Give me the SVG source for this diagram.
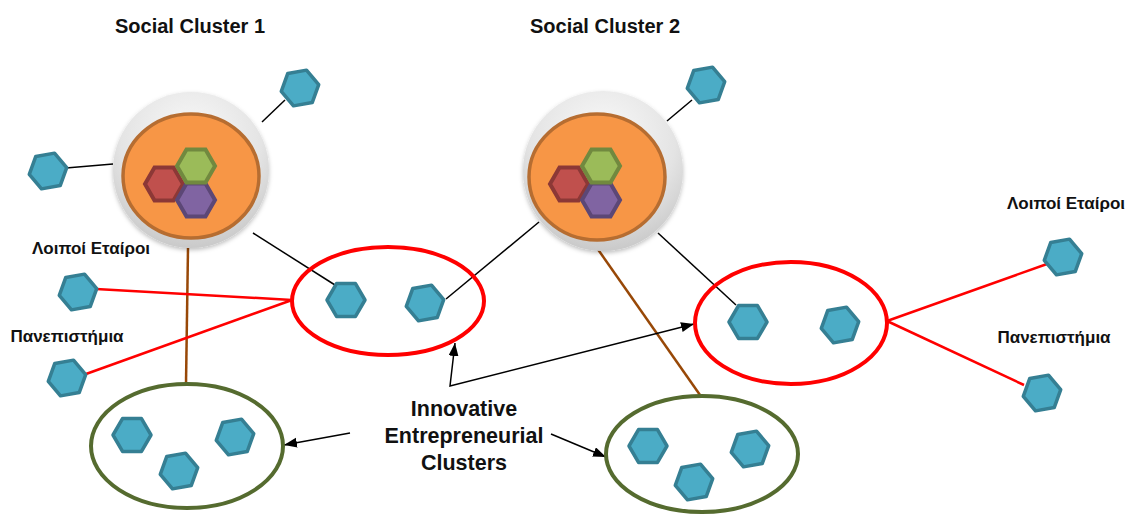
<svg xmlns="http://www.w3.org/2000/svg" xmlns:xlink="http://www.w3.org/1999/xlink" width="1136" height="514" viewBox="0 0 1136 514">
<style>
.t{font-family:"Liberation Sans",Arial,sans-serif;font-weight:bold;fill:#111;}
.bh{fill:#4BACC6;stroke:#357F93;stroke-width:3.5;stroke-linejoin:round;}
.rh{fill:#C0504D;stroke:#8C3836;stroke-width:4;}
.gh{fill:#9BBB59;stroke:#71893F;stroke-width:4;}
.ph{fill:#8064A2;stroke:#5C4776;stroke-width:4;}
.outer{fill:url(#gg);filter:url(#sh);}
.orange{fill:#F79646;stroke:#B66D31;stroke-width:3.5;}
.red{fill:none;stroke:#FF0000;stroke-width:4;}
.grn{fill:none;stroke:#556B2F;stroke-width:4;}
.bl{stroke:#000;stroke-width:1.5;fill:none;}
.br{stroke:#984807;stroke-width:2.5;fill:none;}
.rl{stroke:#FF0000;stroke-width:2.5;fill:none;}
.ar{stroke:#000;stroke-width:1.5;fill:none;marker-end:url(#ah);}
</style>
<defs>
<path id="hx" d="M-19,0 L-9.5,-16.45 L9.5,-16.45 L19,0 L9.5,16.45 L-9.5,16.45Z"/>
<radialGradient id="gg" cx="0.5" cy="0.3" r="0.75">
<stop offset="0" stop-color="#FAFAFA"/>
<stop offset="0.6" stop-color="#E4E4E4"/>
<stop offset="1" stop-color="#C4C4C4"/>
</radialGradient>
<filter id="sh" x="-20%" y="-20%" width="140%" height="140%">
<feDropShadow dx="0" dy="2" stdDeviation="2" flood-color="#000" flood-opacity="0.25"/>
</filter>
<marker id="ah" markerUnits="userSpaceOnUse" markerWidth="14" markerHeight="12" refX="13" refY="5" orient="auto-start-reverse">
<path d="M0,0 L13,5 L0,10Z" fill="#000"/>
</marker>
</defs>

<g id="connectors">
<line class="bl" x1="285" y1="100" x2="262" y2="122"/>
<line class="bl" x1="66" y1="168" x2="113" y2="164"/>
<line class="bl" x1="253" y1="233" x2="335" y2="285"/>
<line class="bl" x1="446" y1="299" x2="539" y2="222"/>
<line class="bl" x1="692" y1="100" x2="667" y2="121"/>
<line class="bl" x1="658" y1="233" x2="736" y2="305"/>
<line class="br" x1="188" y1="248" x2="186" y2="384"/>
<line class="br" x1="597" y1="248" x2="700" y2="395"/>
<line class="rl" x1="96" y1="289" x2="292" y2="300"/>
<line class="rl" x1="86" y1="374" x2="292" y2="300"/>
<line class="rl" x1="887" y1="321" x2="1047" y2="264"/>
<line class="rl" x1="887" y1="321" x2="1024" y2="385"/>
<path class="ar" style="marker-start:url(#ah)" d="M455,343 L450,386 L694,324"/>
<line class="ar" x1="350" y1="433" x2="284" y2="445"/>
<line class="ar" x1="551" y1="434" x2="606" y2="457"/>
</g>

<g id="social-cluster-1">
<circle class="outer" cx="191" cy="170" r="78"/>
<ellipse class="orange" cx="191" cy="176" rx="68" ry="62"/>
<use href="#hx" class="rh" x="164" y="184"/>
<use href="#hx" class="ph" x="196" y="200"/>
<use href="#hx" class="gh" x="196" y="166"/>
</g>
<g id="social-cluster-2">
<circle class="outer" cx="603" cy="171" r="80"/>
<ellipse class="orange" cx="597" cy="177" rx="68" ry="63"/>
<use href="#hx" class="rh" x="569" y="184"/>
<use href="#hx" class="ph" x="601" y="200"/>
<use href="#hx" class="gh" x="601" y="166"/>
</g>

<g id="innovative-cluster-red-1"><ellipse class="red" cx="388" cy="301" rx="96" ry="54"/>
<use href="#hx" class="bh" transform="translate(346,300)"/>
<use href="#hx" class="bh" transform="translate(425,303) rotate(-10)"/>
</g>
<g id="innovative-cluster-red-2"><ellipse class="red" cx="791" cy="323" rx="96" ry="61"/>
<use href="#hx" class="bh" transform="translate(748,322)"/>
<use href="#hx" class="bh" transform="translate(840,325) rotate(-10)"/>
</g>
<g id="innovative-cluster-green-1"><ellipse class="grn" cx="187" cy="446" rx="96" ry="62"/>
<use href="#hx" class="bh" transform="translate(132,435)"/>
<use href="#hx" class="bh" transform="translate(235,437) rotate(-10)"/>
<use href="#hx" class="bh" transform="translate(179,471) rotate(-10)"/>
</g>
<g id="innovative-cluster-green-2"><ellipse class="grn" cx="702" cy="454" rx="96" ry="58"/>
<use href="#hx" class="bh" transform="translate(648,446)"/>
<use href="#hx" class="bh" transform="translate(750,449) rotate(-10)"/>
<use href="#hx" class="bh" transform="translate(694,482) rotate(-10)"/>
</g>

<g id="partner-top-1"><use href="#hx" class="bh" transform="translate(300,88) rotate(-10)"/></g>
<g id="partner-left-1"><use href="#hx" class="bh" transform="translate(48,171) rotate(-10)"/></g>
<g id="partner-top-2"><use href="#hx" class="bh" transform="translate(706,85) rotate(-10)"/></g>
<g id="others-left"><use href="#hx" class="bh" transform="translate(78,292) rotate(-10)"/></g>
<g id="univ-left"><use href="#hx" class="bh" transform="translate(67,378) rotate(-10)"/></g>
<g id="others-right"><use href="#hx" class="bh" transform="translate(1063,257) rotate(-10)"/></g>
<g id="univ-right"><use href="#hx" class="bh" transform="translate(1042,393) rotate(-10)"/></g>

<g id="labels">
<text class="t" x="190" y="33" font-size="20" text-anchor="middle">Social Cluster 1</text>
<text class="t" x="605" y="33" font-size="20" text-anchor="middle">Social Cluster 2</text>
<text class="t" x="91" y="254" font-size="17" text-anchor="middle">Λοιποί Εταίροι</text>
<text class="t" x="67" y="342" font-size="17" text-anchor="middle">Πανεπιστήμια</text>
<text class="t" x="1066" y="209" font-size="17" text-anchor="middle">Λοιποί Εταίροι</text>
<text class="t" x="1054" y="343" font-size="17" text-anchor="middle">Πανεπιστήμια</text>
<text class="t" x="464" y="416" font-size="21.5" text-anchor="middle">Innovative</text>
<text class="t" x="464" y="443" font-size="21.5" text-anchor="middle">Entrepreneurial</text>
<text class="t" x="464" y="470" font-size="21.5" text-anchor="middle">Clusters</text>
</g>
</svg>
